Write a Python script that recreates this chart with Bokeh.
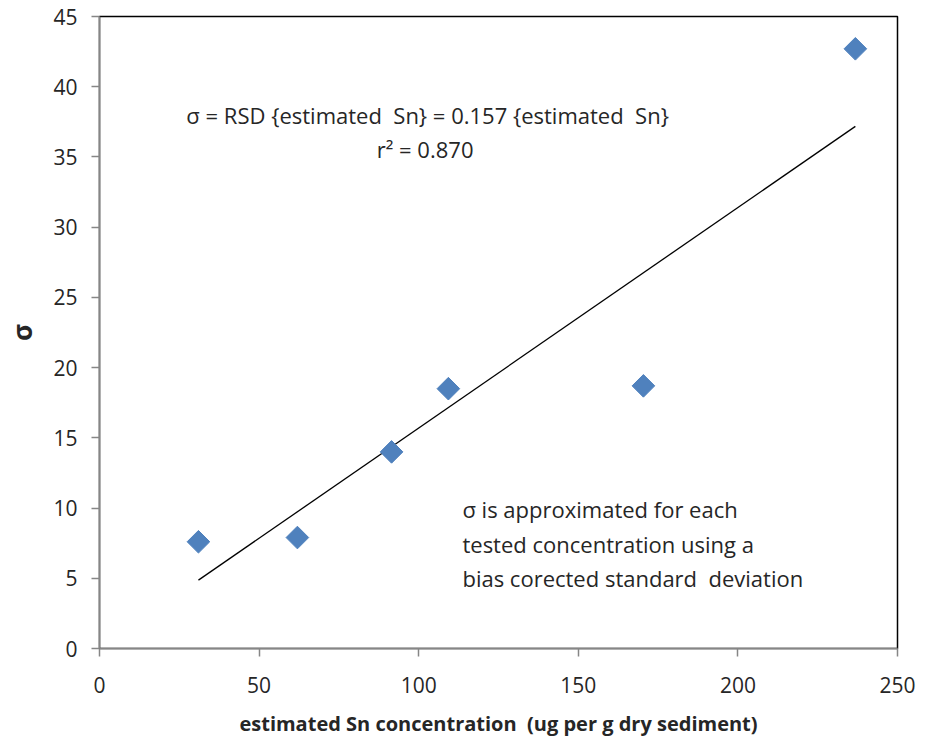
import math
from bokeh.plotting import figure
from bokeh.models import Label, Range1d, FixedTicker, ColumnDataSource
from bokeh.embed import file_html
from bokeh.resources import INLINE

# data
sn_conc = [31.0, 62.0, 91.5, 109.3, 170.4, 236.8]
sigma = [7.6, 7.9, 14.0, 18.5, 18.7, 42.7]
slope = 0.157
x_ticks = [0, 50, 100, 150, 200, 250]
y_ticks = [0, 5, 10, 15, 20, 25, 30, 35, 40, 45]

FONT = "Open Sans"
TXT = "#262626"
NB = "\u00a0"

p = figure(width=925, height=742, output_backend="svg", toolbar_location=None,
           x_range=Range1d(0, 250), y_range=Range1d(0, 45),
           min_border_left=99, min_border_right=28, min_border_top=16, min_border_bottom=94)
p.background_fill_color = "white"
p.border_fill_color = "white"
p.outline_line_color = "#000000"
p.outline_line_width = 1.5
p.xgrid.visible = False
p.ygrid.visible = False

for ax in (p.xaxis[0], p.yaxis[0]):
    ax.axis_line_color = "#868686"
    ax.axis_line_width = 1.5
    ax.major_tick_line_color = "#868686"
    ax.major_tick_line_width = 1.5
    ax.major_tick_in = 0
    ax.major_tick_out = 8
    ax.minor_tick_line_color = None
    ax.major_label_text_font = FONT
    ax.major_label_text_font_size = "21px"
    ax.major_label_text_color = TXT
    ax.axis_label_text_font = FONT
    ax.axis_label_text_font_style = "bold"
    ax.axis_label_text_color = TXT

p.xaxis.ticker = FixedTicker(ticks=x_ticks)
p.yaxis.ticker = FixedTicker(ticks=y_ticks)
p.xaxis.major_label_standoff = 20
p.yaxis.major_label_standoff = 14
p.xaxis.axis_label = "estimated Sn concentration " + NB + "(ug per g dry sediment)"
p.xaxis.axis_label_text_font_size = "20px"
p.xaxis.axis_label_standoff = 14
p.yaxis.axis_label = "σ"
p.yaxis.axis_label_text_font_size = "26px"
p.yaxis.axis_label_standoff = 10

# fit line
xf = [min(sn_conc), max(sn_conc)]
yf = [slope * v for v in xf]
p.line(xf, yf, line_color="#000000", line_width=1.3)

src = ColumnDataSource(dict(x=sn_conc, y=sigma))
p.scatter("x", "y", source=src, marker="square", size=16, angle=math.pi / 4,
          fill_color="#4F81BD", line_color="#4F81BD")

def lab(x, y, t, align="left"):
    p.add_layout(Label(x=x, y=y, text=t, text_font=FONT, text_font_size="22px",
                       text_color=TXT, text_align=align, text_baseline="middle"))

lab(102.8, 38.0, "σ = RSD {estimated " + NB + "Sn} = 0.157 {estimated " + NB + "Sn}", "center")
lab(102.0, 35.6, "r² = 0.870", "center")
lab(113.7, 9.95, "σ is approximated for each")
lab(113.7, 7.45, "tested concentration using a")
lab(113.7, 5.05, "bias corected standard " + NB + "deviation")

open("out.html", "w").write(file_html(p, INLINE))
